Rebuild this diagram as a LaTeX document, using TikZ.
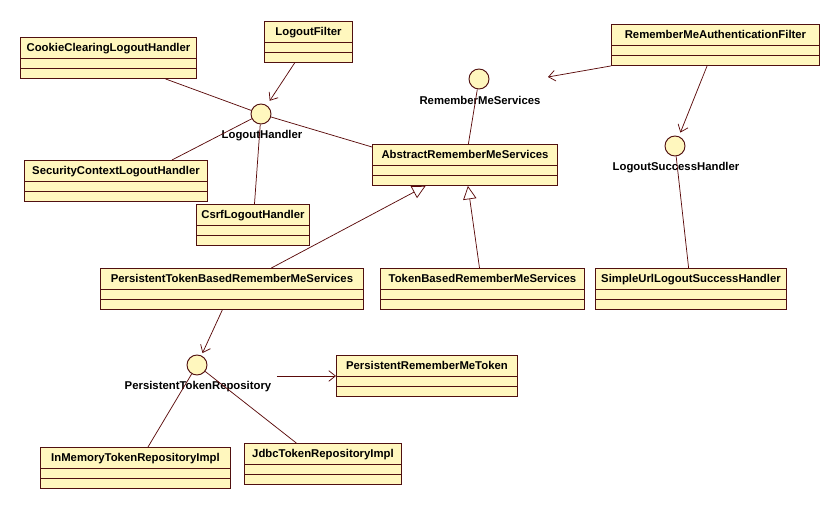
\documentclass[tikz,border=0pt]{standalone}
\usepackage{fontspec}
\setmainfont{Liberation Sans}
\usetikzlibrary{positioning,arrows.meta,calc}
\definecolor{umlfill}{RGB}{255,247,190}
\definecolor{umlline}{RGB}{80,16,16}
\definecolor{umledge}{RGB}{90,10,10}
\tikzset{
  umlfont/.style={font=\fontsize{8.5}{10}\selectfont\bfseries},
  cls/.style={draw=umlline,fill=umlfill,line width=0.7pt,anchor=north west,
    umlfont,minimum width=#1,text height=10.5pt,text depth=20.25pt,
    inner ysep=0pt,inner xsep=2pt},
  iface/.style={circle,draw=umlline,fill=umlfill,line width=0.7pt,
    minimum size=15pt,inner sep=0pt},
  iflbl/.style={umlfont,inner sep=1pt},
  plain/.style={draw=umledge,line width=0.55pt},
  navi/.style={plain,-{Straight Barb[length=5pt,width=8pt]}},
  gen/.style={plain,-{Triangle[open,length=10pt,width=10pt,fill=white]}},
}
\begin{document}
\begin{tikzpicture}[x=0.75pt,y=-0.75pt]
  \useasboundingbox (0,0) rectangle (840,509);
  % classes
  \node[cls=132pt] (cookie) at (20,37) {CookieClearingLogoutHandler};
  \node[cls=66pt] (filter) at (264,21) {LogoutFilter};
  \node[cls=137.25pt] (sec) at (24,160) {SecurityContextLogoutHandler};
  \node[cls=84.75pt] (csrf) at (196,204) {CsrfLogoutHandler};
  \node[cls=138.75pt] (abs) at (372,144) {AbstractRememberMeServices};
  \node[cls=156pt] (rmaf) at (611,24) {RememberMeAuthenticationFilter};
  \node[cls=197.25pt] (ptb) at (100,268) {PersistentTokenBasedRememberMeServices};
  \node[cls=153pt] (tb) at (380,268) {TokenBasedRememberMeServices};
  \node[cls=143.25pt] (su) at (595,268) {SimpleUrlLogoutSuccessHandler};
  \node[cls=135.75pt] (prmt) at (336,355) {PersistentRememberMeToken};
  \node[cls=142.5pt] (inmem) at (40,447) {InMemoryTokenRepositoryImpl};
  \node[cls=117.75pt] (jdbc) at (244,443) {JdbcTokenRepositoryImpl};
  \foreach \c in {cookie,filter,sec,csrf,abs,rmaf,ptb,tb,su,prmt,inmem,jdbc}
    \draw[umlline,line width=0.7pt]
      ([yshift=-15.75pt]\c.north west) -- ([yshift=-15.75pt]\c.north east)
      ([yshift=-23.25pt]\c.north west) -- ([yshift=-23.25pt]\c.north east);
  % interfaces
  \node[iface] (lh) at (261,114) {};
  \node[iflbl] (lhlbl) at (262,136) {LogoutHandler};
  \node[iface] (rms) at (479,79) {};
  \node[iflbl] (rmslbl) at (480,100) {RememberMeServices};
  \node[iface] (lsh) at (675,146) {};
  \node[iflbl] (lshlbl) at (676,168) {LogoutSuccessHandler};
  \node[iface] (ptr) at (197,365) {};
  \node[iflbl] (ptrlbl) at (198,387) {PersistentTokenRepository};
  \coordinate (rmstip) at (548,77);
  % connectors
  \path (cookie) edge[plain] (lh)
        (filter) edge[navi,shorten >=4pt] (lh)
        ([xshift=42pt]sec.north) edge[plain] (lh)
        (csrf) edge[plain] (lh)
        ([yshift=-2.25pt]abs.north west) edge[plain] (lh)
        (abs) edge[plain] (rms)
        (rmaf.south west) edge[navi] (rmstip)
        (rmaf) edge[navi,shorten >=3pt] (lsh)
        (su) edge[plain] (lsh)
        (ptb) edge[gen] (abs)
        (tb) edge[gen] (abs)
        (ptb) edge[navi,shorten >=2pt] (ptr)
        ([xshift=3pt]ptrlbl.east |- prmt.west) edge[navi] (prmt.west)
        (inmem) edge[plain] (ptr)
        (jdbc) edge[plain] (ptr);
\end{tikzpicture}
\end{document}
